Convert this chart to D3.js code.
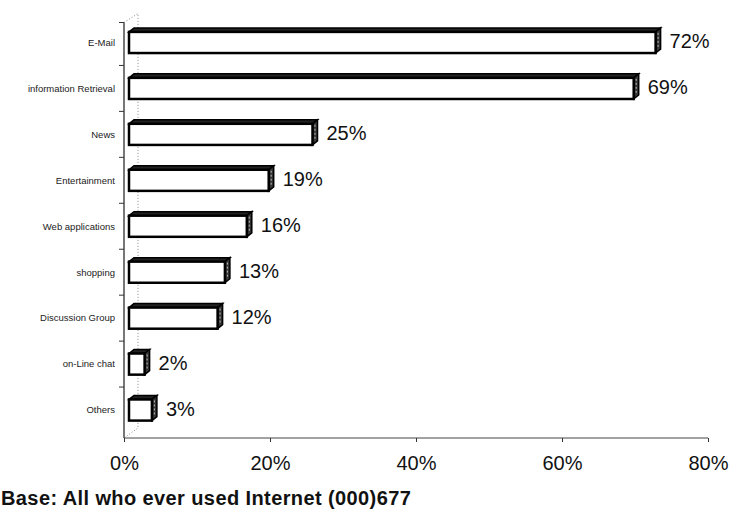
<!DOCTYPE html>
<html>
<head>
<meta charset="utf-8">
<script src="https://cdn.jsdelivr.net/npm/d3@7"></script>
<style>
  body { margin: 0; background: #fff; }
  svg { display: block; font-family: Arial, "Liberation Sans", sans-serif; }
</style>
</head>
<body>
<svg id="chart" width="731" height="510"></svg>
<script>
// chart data
const categories = ["E-Mail", "information Retrieval", "News", "Entertainment",
    "Web applications", "shopping", "Discussion Group", "on-Line chat", "Others"];
const values = [72, 69, 25, 19, 16, 13, 12, 2, 3];
const tickValues = [0, 20, 40, 60, 80];
const footnote = "Base: All who ever used Internet (000)677";

let svg = d3.select("#chart");

let plotLeft = 124, plotRight = 708, plotTop = 19.5, plotBottom = 438;
let depth = 5, rise = 4;
let wall = 14;

let xScale = d3.scaleLinear().domain([0, 80]).range([plotLeft, plotRight]);
let yScale = d3.scaleBand().domain(categories).range([plotTop, 433])
    .paddingInner(0.54).paddingOuter(0.27);

// back wall dotted edge (3d)
svg.append("path")
    .attr("d", "M" + plotLeft + "," + (plotTop + 3) + "L" + (plotLeft + wall) + "," + (plotTop - 6) +
        "V" + (plotBottom - 10) + "L" + plotLeft + "," + plotBottom)
    .attr("fill", "none")
    .attr("stroke", "#888").attr("stroke-width", 1).attr("stroke-dasharray", "1,2");

// left axis
svg.append("line")
    .attr("x1", plotLeft).attr("x2", plotLeft)
    .attr("y1", plotTop + 3).attr("y2", plotBottom)
    .attr("stroke", "#777").attr("stroke-width", 2);

// left ticks between categories
let step = yScale.step();
let boundaries = [plotTop + 3].concat(categories.slice(1).map(c => yScale(c) - step * yScale.paddingInner() / 2));
svg.selectAll(".ytick").data(boundaries).enter().append("line")
    .attr("x1", plotLeft - 5).attr("x2", plotLeft)
    .attr("y1", d => d).attr("y2", d => d)
    .attr("stroke", "#333");

// bottom axis
let xAxis = d3.axisBottom(xScale)
    .tickValues(tickValues)
    .tickSize(4)
    .tickFormat(d => d + "%");
let gx = svg.append("g")
    .attr("transform", "translate(0," + plotBottom + ")")
    .call(xAxis);
gx.select(".domain").attr("stroke", "#444").attr("d", "M" + plotLeft + ",0H" + plotRight);
gx.selectAll(".tick line").attr("stroke", "#333");
gx.selectAll(".tick text")
    .attr("y", 18)
    .attr("font-size", 20)
    .attr("font-family", "Arial, 'Liberation Sans', sans-serif")
    .attr("fill", "#111");

// category labels
svg.selectAll(".cat").data(categories).enter().append("text")
    .attr("x", plotLeft - 9)
    .attr("y", d => yScale(d) + yScale.bandwidth() / 2)
    .attr("dy", "0.35em")
    .attr("text-anchor", "end")
    .attr("font-size", 9.5)
    .attr("fill", "#222")
    .text(d => d);

// 3d bars
let bars = svg.selectAll(".bar").data(values).enter().append("g");

bars.each(function (v, i) {
    let g = d3.select(this);
    let x0 = xScale(0) + 5;
    let x1 = xScale(v) + 6;
    let y0 = yScale(categories[i]);
    let h = yScale.bandwidth();

    // top face
    g.append("path")
        .attr("d", "M" + x0 + "," + y0 + "L" + (x0 + depth) + "," + (y0 - rise) +
            "L" + (x1 + depth) + "," + (y0 - rise) + "L" + x1 + "," + y0 + "Z")
        .attr("fill", "#222").attr("stroke", "#000").attr("stroke-width", 1.5);
    // side face
    g.append("path")
        .attr("d", "M" + x1 + "," + y0 + "L" + (x1 + depth) + "," + (y0 - rise) +
            "L" + (x1 + depth) + "," + (y0 + h - rise) + "L" + x1 + "," + (y0 + h) + "Z")
        .attr("fill", "#333").attr("stroke", "#000").attr("stroke-width", 1.5);
    g.append("line")
        .attr("x1", x1 + depth / 2).attr("x2", x1 + depth / 2)
        .attr("y1", y0 + 1).attr("y2", y0 + h - 4)
        .attr("stroke", "#ddd").attr("stroke-width", 0.8).attr("stroke-dasharray", "2,2");
    // front face
    g.append("rect")
        .attr("x", x0).attr("y", y0)
        .attr("width", x1 - x0).attr("height", h)
        .attr("fill", "#fff").attr("stroke", "#000").attr("stroke-width", 2.5);

    // value label
    g.append("text")
        .attr("x", x1 + depth + 9)
        .attr("y", y0 + h / 2 - 1)
        .attr("dy", "0.35em")
        .attr("font-size", 20)
        .attr("fill", "#111")
        .text(v + "%");
});

// footnote
svg.append("text")
    .attr("x", 1).attr("y", 505)
    .attr("font-size", 20)
    .attr("font-weight", "bold")
    .attr("letter-spacing", 0.4)
    .attr("fill", "#111")
    .text(footnote);
</script>
</body>
</html>
